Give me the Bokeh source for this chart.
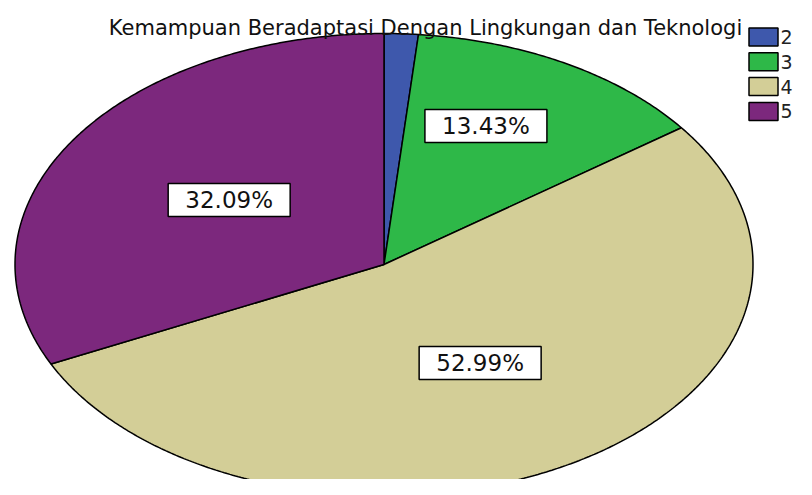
import numpy as np
from bokeh.plotting import figure
from bokeh.models import Range1d, ColumnDataSource
from bokeh.core.properties import value
from bokeh.embed import file_html
from bokeh.resources import INLINE

# ---- data ----
title_text = "Kemampuan Beradaptasi Dengan Lingkungan dan Teknologi"
categories = ["2", "3", "4", "5"]
percents = [1.49, 13.43, 52.99, 32.09]
show_label = [False, True, True, True]
colors = ["#3E58AC", "#2EB848", "#D3CE97", "#7C287D"]

# ---- layout (pixel space of the figure) ----
W, H = 796, 479
cx, cy = 383.5, 264.0
rx, ry = 369.0, 231.0
label_shift_deg = [0.0, -4.8, -0.5, 1.4]
label_rfrac = [0.6, 0.66, 0.50, 0.504]
FONT = value("DejaVu Sans")

p = figure(width=W, height=H, x_range=Range1d(0, W), y_range=Range1d(H, 0),
           output_backend="svg", toolbar_location=None, min_border=0,
           x_axis_type=None, y_axis_type=None)
p.grid.visible = False
p.outline_line_color = None
p.background_fill_color = "white"
p.border_fill_color = "white"

frac = np.array(percents) / np.sum(percents)
edges = np.concatenate([[0.0], np.cumsum(frac)]) * 2 * np.pi

xs, ys = [], []
for a0, a1 in zip(edges[:-1], edges[1:]):
    t = np.linspace(a0, a1, max(4, int((a1 - a0) * 120)))
    xs.append(np.concatenate([[cx], cx + rx * np.sin(t)]).tolist())
    ys.append(np.concatenate([[cy], cy - ry * np.cos(t)]).tolist())

p.patches(xs=xs, ys=ys, fill_color=colors, line_color="black", line_width=1.5)

# labels
lx, ly, lt = [], [], []
for i in range(len(percents)):
    if not show_label[i]:
        continue
    mid = (edges[i] + edges[i + 1]) / 2 + np.deg2rad(label_shift_deg[i])
    lx.append(cx + rx * label_rfrac[i] * np.sin(mid))
    ly.append(cy - ry * label_rfrac[i] * np.cos(mid))
    lt.append(f"{percents[i]:.2f}%")
lsrc = ColumnDataSource(dict(x=lx, y=ly, t=lt))
p.rect(x="x", y="y", width=122, height=33, source=lsrc, fill_color="white",
       line_color="black", line_width=1.5)
p.text(x="x", y="y", text="t", source=lsrc, text_align="center",
       text_baseline="middle", text_font_size="23px", text_font=FONT,
       text_color="#111111")

# title
p.text(x=[425], y=[27], text=[title_text], text_align="center",
       text_baseline="alphabetic", text_font_size="21px", text_font=FONT,
       text_color="#111111")

# legend
idx = np.arange(len(categories))
gy = 36.5 + 24.8 * idx
p.rect(x=[763] * len(categories), y=gy.tolist(), width=29, height=18,
       fill_color=colors, line_color="black", line_width=1.5)
p.text(x=[780] * len(categories), y=gy.tolist(), text=categories,
       text_align="left", text_baseline="middle", text_font_size="19px",
       text_font=FONT, text_color="#222222")

open("out.html", "w").write(file_html(p, INLINE))
